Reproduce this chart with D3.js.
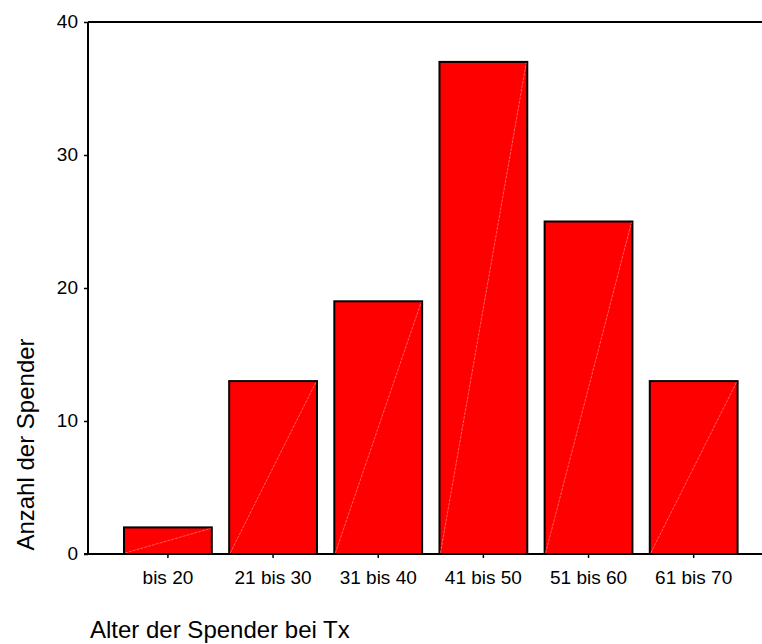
<!DOCTYPE html>
<html><head><meta charset="utf-8">
<script src="https://cdn.jsdelivr.net/npm/d3@7"></script>
<style>body{margin:0;background:#fff}svg{display:block}text{font-family:"Liberation Sans",Arial,sans-serif;fill:#000}</style>
</head><body>
<script>
const categories = ["bis 20","21 bis 30","31 bis 40","41 bis 50","51 bis 60","61 bis 70"];
const values = [2,13,19,37,25,13];
const yTicks = [0,10,20,30,40];
const yTitle = "Anzahl der Spender";
const xTitle = "Alter der Spender bei Tx";

(function(){
const W=762,H=644;
const svg=d3.select("body").append("svg").attr("width",W).attr("height",H);
const mLeft=88, mTop=22, mBottom=554, mRight=762;
const y=d3.scaleLinear().domain([0,40]).range([mBottom,mTop]);
const x=d3.scaleBand().domain(categories).range([115.6,746]).paddingInner(0.165).paddingOuter(0.08);

svg.append("line").attr("x1",mLeft).attr("x2",mRight).attr("y1",mTop).attr("y2",mTop).attr("stroke","#000").attr("stroke-width",2);

const g=svg.append("g");
g.selectAll("rect").data(values).join("rect")
 .attr("x",(d,i)=>x(categories[i])).attr("width",x.bandwidth())
 .attr("y",d=>y(d)).attr("height",d=>y(0)-y(d))
 .attr("fill","#ff0000").attr("stroke","#000").attr("stroke-width",2);
g.selectAll("line.diag").data(values).join("line").attr("class","diag")
 .attr("x1",(d,i)=>x(categories[i])+1).attr("y1",y(0)-1)
 .attr("x2",(d,i)=>x(categories[i])+x.bandwidth()-1).attr("y2",d=>y(d)+1)
 .attr("stroke","#ff9c9c").attr("stroke-width",0.6).attr("stroke-dasharray","3,1");

const ya=svg.append("g").attr("transform",`translate(${mLeft},0)`)
 .call(d3.axisLeft(y).tickValues(yTicks).tickSize(4).tickPadding(6).tickFormat(d3.format("d")));
ya.select(".domain").attr("stroke-width",2).attr("d",`M0,${mTop}V${mBottom}`);
ya.selectAll("text").style("font-size","19px").attr("dy","0.3em");
ya.selectAll(".tick line").attr("stroke-width",1.5);

const xa=svg.append("g").attr("transform",`translate(0,${mBottom})`)
 .call(d3.axisBottom(x).tickSize(4).tickPadding(12.5));
xa.select(".domain").attr("stroke-width",2).attr("d",`M${mLeft-4},0H${mRight}`);
xa.selectAll("text").style("font-size","19px");
xa.selectAll(".tick line").attr("stroke-width",1.5);

svg.append("text").attr("transform",`translate(34,${444.5}) rotate(-90)`)
 .attr("text-anchor","middle").style("font-size","24px").text(yTitle);
svg.append("text").attr("x",90).attr("y",638).style("font-size","24px").text(xTitle);
})();
</script>
</body></html>
